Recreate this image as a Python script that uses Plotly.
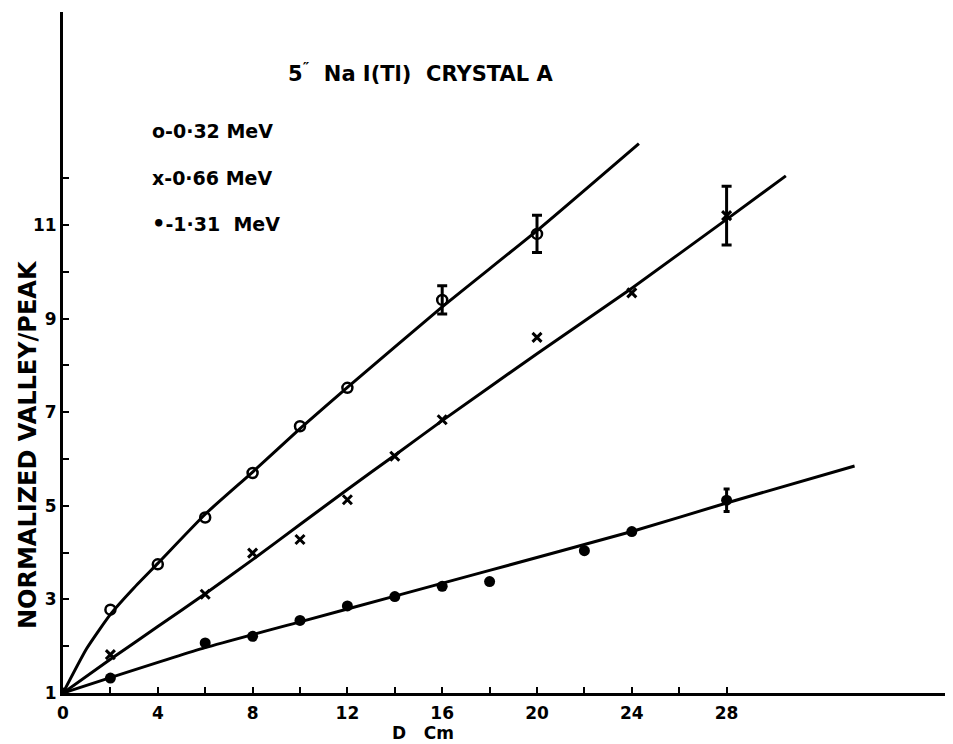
import plotly.graph_objects as go

# ---- data ----
d_032 = [2, 4, 6, 8, 10, 12, 16, 20]
v_032 = [2.78, 3.75, 4.75, 5.70, 6.70, 7.52, 9.40, 10.81]
err_032_x = [16, 20]
err_032_y = [9.40, 10.81]
err_032_e = [0.30, 0.40]

d_066 = [2, 6, 8, 10, 12, 14, 16, 20, 24, 28]
v_066 = [1.82, 3.11, 3.99, 4.28, 5.13, 6.06, 6.84, 8.60, 9.55, 11.20]
err_066_x = [28]
err_066_y = [11.20]
err_066_e = [0.63]

d_131 = [0, 2, 6, 8, 10, 12, 14, 16, 18, 22, 24, 28]
v_131 = [1.0, 1.32, 2.07, 2.21, 2.55, 2.86, 3.06, 3.28, 3.38, 4.04, 4.45, 5.12]
err_131_x = [28]
err_131_y = [5.12]
err_131_e = [0.24]

# hand-drawn fitted curves
fit_032_x = [0, 1, 2, 3, 4, 6, 8, 10, 12, 16, 20, 24.3]
fit_032_y = [1.0, 1.95, 2.68, 3.25, 3.77, 4.82, 5.72, 6.65, 7.53, 9.25, 10.88, 12.74]
fit_066_x = [0, 2, 4, 6, 8, 10, 12, 14, 16, 20, 24, 28, 30.5]
fit_066_y = [1.0, 1.72, 2.42, 3.12, 3.85, 4.6, 5.35, 6.08, 6.82, 8.25, 9.65, 11.12, 12.05]
fit_131_x = [0, 2, 6, 10, 14, 18, 24, 28, 33.4]
fit_131_y = [1.0, 1.33, 1.97, 2.52, 3.07, 3.62, 4.45, 5.06, 5.85]

x_ticks = list(range(0, 30, 2))
x_labels = [str(v) if v % 4 == 0 else " " for v in x_ticks]
y_ticks = list(range(1, 13))
y_labels = [str(v) if v % 2 == 1 else " " for v in y_ticks]

title_text = "5<sup>″</sup>  Na I(Tl)  CRYSTAL A"
legend_texts = ["o-0·32 MeV", "x-0·66 MeV",
                '<span style="font-size:21px">•</span>-1·31  MeV']
x_title = "D   Cm"
y_title = "NORMALIZED VALLEY/PEAK"

FONT = "DejaVu Sans"
OFF = 8                      # page body margin of the html page
PW, PH = 953, 744            # window size
W, H = PW - OFF, PH - OFF    # figure size
AX_L, AX_B, AX_T = 63, 693, 12   # axes position in window pixels
L, R = AX_L - OFF, 0
T = AX_T - OFF
B = H - (AX_B - OFF)

def px(x):   # window pixel -> paper
    return (x - OFF - L) / (W - L - R)

def py(y):
    return (H - B - (y - OFF)) / (H - T - B)

fig = go.Figure()
for fx, fy in [(fit_032_x, fit_032_y), (fit_066_x, fit_066_y), (fit_131_x, fit_131_y)]:
    fig.add_trace(go.Scatter(x=fx, y=fy, mode="lines",
                             line=dict(color="black", width=3, shape="spline", smoothing=0.5),
                             hoverinfo="skip", showlegend=False))

for ex, ey, ee, cw in [(err_032_x, err_032_y, err_032_e, 5), (err_066_x, err_066_y, err_066_e, 5),
                        (err_131_x, err_131_y, err_131_e, 3)]:
    fig.add_trace(go.Scatter(x=ex, y=ey, mode="markers", marker=dict(size=1, color="black"),
                             error_y=dict(type="data", array=ee, visible=True, color="black",
                                          thickness=3, width=cw),
                             showlegend=False, hoverinfo="skip"))

fig.add_trace(go.Scatter(x=d_032, y=v_032, mode="markers",
                         marker=dict(symbol="circle-open", size=10, color="black", line=dict(width=2.5)),
                         name="0.32 MeV", showlegend=False))
fig.add_trace(go.Scatter(x=d_066, y=v_066, mode="markers",
                         marker=dict(symbol="x-thin-open", size=9, color="black", line=dict(width=3, color="black")),
                         name="0.66 MeV", showlegend=False))
fig.add_trace(go.Scatter(x=d_131, y=v_131, mode="markers",
                         marker=dict(symbol="circle", size=11, color="black"),
                         name="1.31 MeV", showlegend=False))

xmax = (W - L - R) / 23.7
ymax = 1 + (H - T - B) / 46.8

fig.update_xaxes(range=[0, xmax], showline=True, linecolor="black", linewidth=3,
                 showgrid=False, zeroline=False, ticks="inside", ticklen=6, tickwidth=2,
                 tickcolor="black", tickvals=x_ticks, ticktext=x_labels, ticklabelstandoff=3,
                 tickfont=dict(family=FONT, size=17, color="black", weight="bold"))
fig.update_yaxes(range=[1, ymax], showline=True, linecolor="black", linewidth=3,
                 showgrid=False, zeroline=False, ticks="inside", ticklen=6, tickwidth=2,
                 tickcolor="black", tickvals=y_ticks, ticktext=y_labels, ticklabelstandoff=0,
                 tickfont=dict(family=FONT, size=17, color="black", weight="bold"))

annos = [
    dict(x=px(420), y=py(72), text=title_text, xanchor="center", yanchor="middle",
         font=dict(family=FONT, size=21, color="black", weight="bold")),
    dict(x=px(423), y=py(745), text=x_title, xanchor="center", yanchor="bottom",
         font=dict(family=FONT, size=17, color="black", weight="bold")),
    dict(x=px(28), y=py(445), text=y_title, textangle=-90, xanchor="center", yanchor="middle",
         font=dict(family=FONT, size=24, color="black", weight="bold")),
]
for txt, yy in zip(legend_texts, [131, 178, 224]):
    annos.append(dict(x=px(150), y=py(yy), text=txt, xanchor="left", yanchor="middle",
                      font=dict(family=FONT, size=19, color="black", weight="bold")))
for a in annos:
    a.update(xref="paper", yref="paper", showarrow=False)

fig.update_layout(width=W, height=H, margin=dict(l=L, r=R, t=T, b=B, pad=0),
                  paper_bgcolor="white", plot_bgcolor="white", annotations=annos,
                  showlegend=False)

fig.write_html("out.html")
